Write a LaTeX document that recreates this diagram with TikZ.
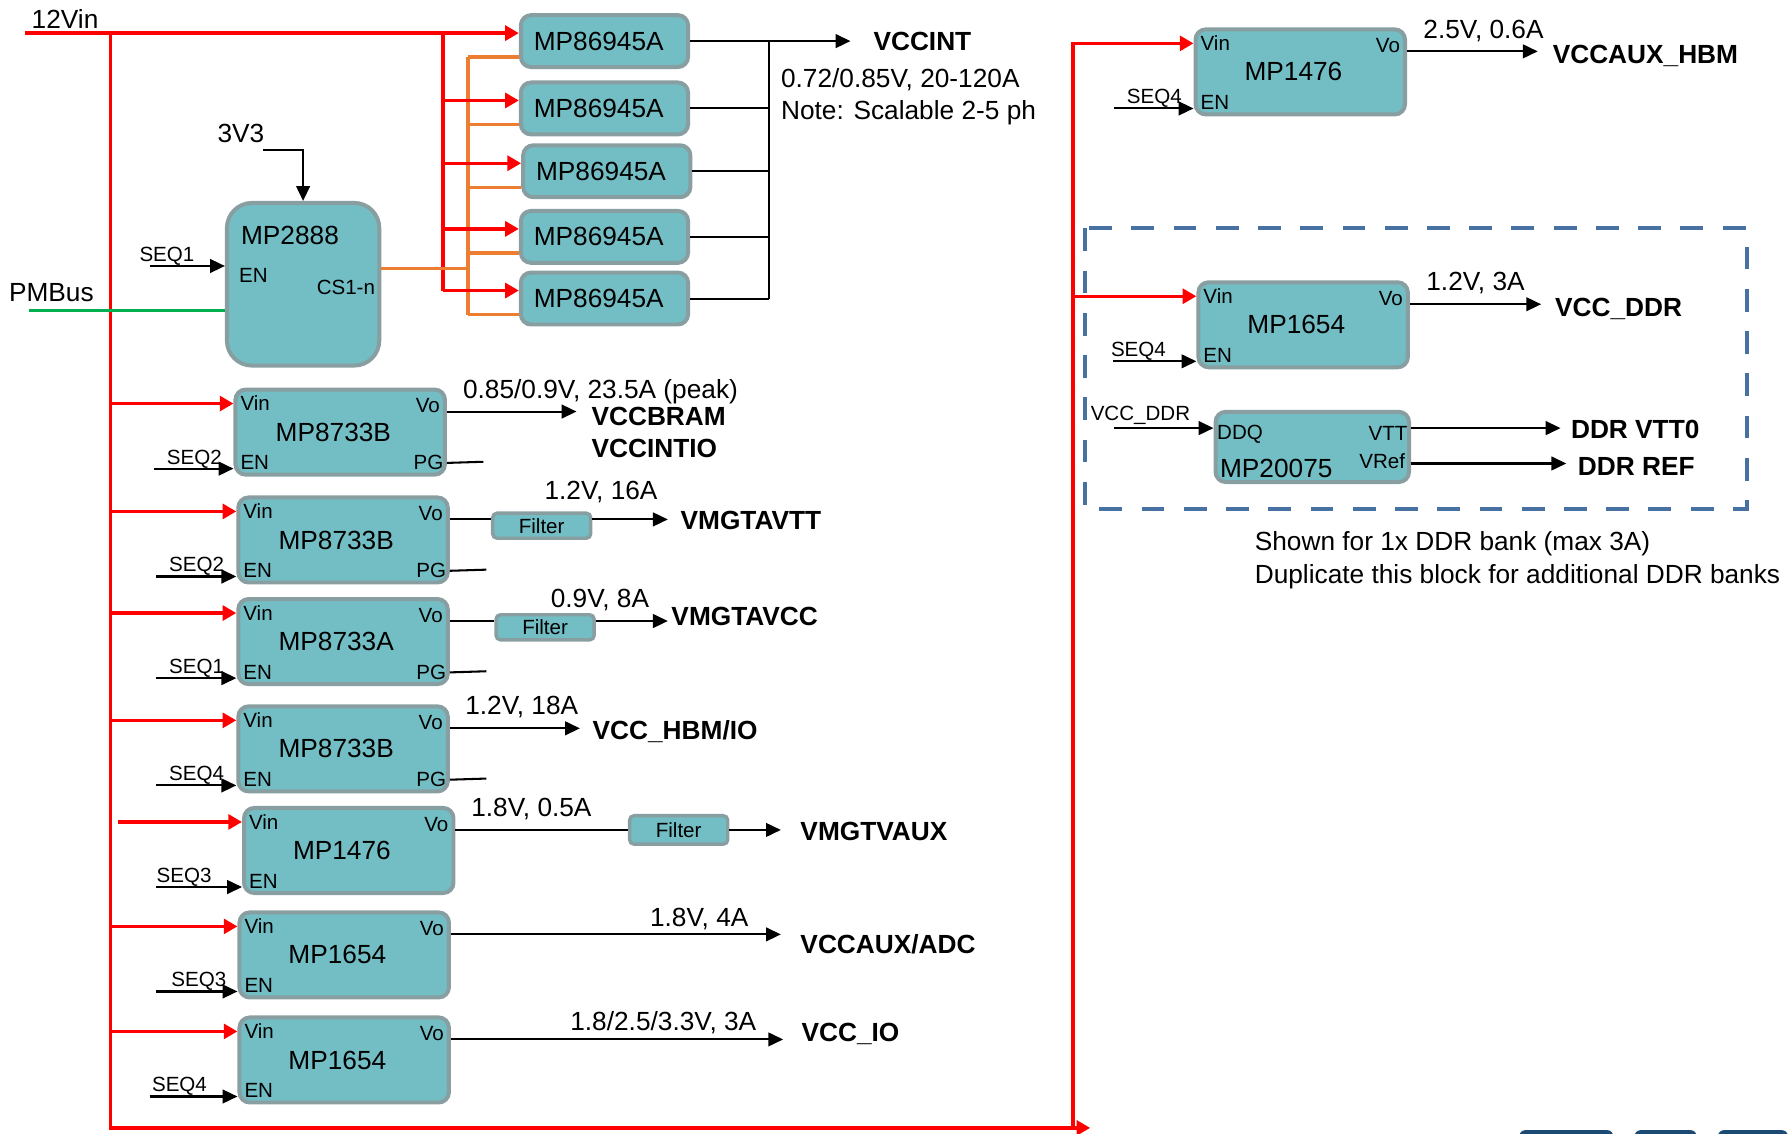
\documentclass[tikz,border=0pt]{standalone}
\usepackage{fontspec}
\setmainfont{Liberation Sans}
\usetikzlibrary{arrows.meta,positioning,calc}
\definecolor{BoxFill}{HTML}{72BEC4}
\definecolor{BoxEdge}{HTML}{889EA1}
\definecolor{RailRed}{HTML}{FF0000}
\definecolor{CsOrange}{HTML}{ED7D31}
\definecolor{BusGreen}{HTML}{00B050}
\definecolor{BankBlue}{HTML}{4671A0}
\definecolor{TabNavy}{HTML}{1B4A72}
\newcommand{\RegBox}[4]{%
  \node[regbox] (#1) at (#2,#3) {};
  \node[partlbl] (#1t) at ([xshift=-6pt]#1.center) {#4};
  \node[pinlbl,anchor=west] (#1vin) at ([xshift=6pt,yshift=-14pt]#1.north west) {Vin};
  \node[pinlbl,anchor=east] (#1vo) at ([xshift=-6pt,yshift=-16pt]#1.north east) {Vo};
  \node[pinlbl,anchor=west] (#1en) at ([xshift=6pt,yshift=12pt]#1.south west) {EN};
  \coordinate (#1out) at ([yshift=-21pt]#1.north east);
  \coordinate (#1ena) at ([yshift=7pt]#1.south west);%
}
\begin{document}
\begin{tikzpicture}[x=1pt,y=-1pt,
  regbox/.style={draw=BoxEdge,fill=BoxFill,line width=3.5pt,rounded corners=9pt,minimum width=183.5pt,minimum height=74.5pt,inner sep=0pt},
  filterbox/.style={draw=BoxEdge,fill=BoxFill,line width=3pt,rounded corners=4pt,minimum width=86pt,minimum height=22pt,inner sep=0pt,font=\fontsize{18}{21}\selectfont},
  partlbl/.style={inner sep=0pt,font=\fontsize{23}{27}\selectfont},
  pinlbl/.style={inner sep=0pt,font=\fontsize{18}{21}\selectfont},
  notetxt/.style={inner sep=0pt,align=left,font=\fontsize{23}{28}\selectfont},
  railtxt/.style={inner sep=0pt,anchor=west,align=left,font=\fontsize{23}{28}\selectfont\bfseries},
  pwr/.style={draw=RailRed,line width=3pt},
  pwrarr/.style={pwr,-{Triangle[length=12pt,width=13pt]}},
  sig/.style={draw=black,line width=1.8pt},
  sigarr/.style={sig,-{Triangle[length=13pt,width=12pt]}},
  csline/.style={draw=CsOrange,line width=3pt},
  pmbline/.style={draw=BusGreen,line width=3pt},
  bankline/.style={draw=BankBlue,line width=3.5pt,dash pattern=on 20pt off 17pt}]
\useasboundingbox (0,0) rectangle (1568,993);

\foreach \i/\cx/\cy in {1/529.5/36,2/529.5/95,3/531.5/150,4/529.5/207.5,5/529.5/261.5} {
  \node[regbox,minimum width=146.5pt,minimum height=45.5pt,font=\fontsize{23}{27}\selectfont] (ph\i) at (\cx,\cy) {\hspace*{-10pt}MP86945A};
  \coordinate (ph\i in) at ([yshift=7pt]ph\i.west);
  \coordinate (ph\i cs) at ([yshift=-14pt]ph\i.west);
}
\foreach \n/\cx/\cy/\part in {r1/298/378.5/MP8733B,r2/300.5/473/MP8733B,r3/300.5/562/MP8733A,r4/300.5/656/MP8733B,r5/305.5/745/MP1476,r6/301.5/836.5/MP1654,r7/301.5/928.5/MP1654,u1/1139/63/MP1476,u2/1141.5/284.5/MP1654}
  {\RegBox{\n}{\cx}{\cy}{\part}}
\foreach \n in {r1,r2,r3,r4} {
  \node[pinlbl,anchor=east] (\n pg) at ([xshift=-3pt,yshift=12pt]\n.south east) {PG};
  \coordinate (\n pgx) at ($(\n.east |- \n pg)+(32,-1)$);
  \draw[sig] (\n.east |- \n pg) -- (\n pgx);
}

\node[regbox,minimum width=133.5pt,minimum height=142.5pt,rounded corners=22pt] (ctl) at (265.5,249) {};
\node[partlbl,anchor=west] (ctlt) at (211,206) {MP2888};
\node[pinlbl] (ctlen) at (222,241) {EN};
\node[pinlbl] (ctlcs) at (303,252) {CS1-n};
\node[notetxt] (v33) at (211,117) {3V3};
\coordinate (v33a) at (230,131);
\draw[sigarr] (v33a) -| (ctl.north);
\node[pinlbl,anchor=base west] (ctlseq) at (122,229) {SEQ1};
\coordinate (ctlena) at (131,233);
\draw[sigarr] (ctlena) -- (ctlena -| ctl.west);

\node[notetxt] (vinlbl) at (57,17) {12Vin};
\coordinate (vin) at (22,29);
\coordinate (busA) at (97,29);
\coordinate (busB) at (388,29);
\coordinate (busBot) at (97,988);
\coordinate (busEnd) at (955,988);
\coordinate (busC) at (940,41);
\coordinate (csBus) at (410,235);
\coordinate (r5src) at (103,745);
\coordinate (ctlcsa) at ([yshift=14pt]ctl.east);

\draw[csline] (csBus |- ph1cs) -- (csBus |- ph5cs);
\draw[pwrarr] (vin) -- (ph1in);
\draw[pwr] (busB) -- (busB |- ph5in);
\foreach \i in {2,...,5}
  \draw[pwrarr] (busB |- ph\i in) -- (ph\i in);
\foreach \i in {1,...,5}
  \draw[csline] (csBus |- ph\i cs) -- (ph\i cs);
\draw[csline] (ctlcsa) -- (ctlcsa -| csBus);
\draw[pwrarr] (busA) -- (busBot) -- (busEnd);
\foreach \n in {r1,r2,r3,r4,r6,r7}
  \draw[pwrarr] (busA |- \n vin) -- (\n.west |- \n vin);
\draw[pwrarr] (r5src |- r5vin) -- (r5.west |- r5vin);
\draw[pwrarr] (busBot -| busC) |- (u1.west |- u1vin);
\draw[pwrarr] (busC |- u2vin) -- (u2.west |- u2vin);

\node[notetxt] (pmb) at (45,256) {PMBus};
\coordinate (pmba) at (25,272);
\draw[pmbline] (pmba) -- (pmba -| ctl.west);

\coordinate (vjoin) at (674,36);
\draw[sigarr] (ph1.east) -- (ph1.east -| 745,0);
\foreach \i in {2,...,5}
  \draw[sig] (ph\i.east) -- (ph\i.east -| vjoin);
\draw[sig] (ph1.east -| vjoin) -- (ph5.east -| vjoin);
\node[railtxt] (vccint) at (765,36) {VCCINT};
\node[notetxt,anchor=west] (vccintnote) at (684,85) {0.72/0.85V, 20-120A\\Note: Scalable 2-5 ph};

\foreach \n/\lbl/\sx/\tx in {r1/SEQ2/135/146,r2/SEQ2/137/148,r3/SEQ1/137/148,r4/SEQ4/137/148,r5/SEQ3/137/137,r6/SEQ3/137/150,r7/SEQ4/131/133,u1/SEQ4/976/987,u2/SEQ4/975/973} {
  \draw[sigarr] (\sx,0 |- \n ena) -- (\n ena);
  \node[pinlbl,anchor=base west] (\n seq) at ($(\tx,0 |- \n ena)+(0,-4)$) {\lbl};
}

\node[filterbox] (f2) at (474.5,460.5) {Filter};
\node[filterbox] (f3) at (477.5,549.5) {Filter};
\node[filterbox,minimum height=25pt] (f5) at (594.5,727) {Filter};
\foreach \n/\tx in {r1/505,r4/508,r6/684,r7/686,u1/1347,u2/1350}
  \draw[sigarr] (\n out) -- (\n out -| \tx,0);
\foreach \n/\f/\tx in {r2/f2/585,r3/f3/585,r5/f5/684} {
  \draw[sig] (\n out) -- (\n out -| \f.west);
  \draw[sigarr] (\f.east |- \n out) -- (\n out -| \tx,0);
}

\node[notetxt] (r1note) at (526,343) {0.85/0.9V, 23.5A (peak)};
\node[notetxt] (r2note) at (526.5,431) {1.2V, 16A};
\node[notetxt] (r3note) at (525.5,526) {0.9V, 8A};
\node[notetxt] (r4note) at (457,619) {1.2V, 18A};
\node[notetxt] (r5note) at (465.5,709) {1.8V, 0.5A};
\node[notetxt] (r6note) at (612.5,805) {1.8V, 4A};
\node[notetxt] (r7note) at (581,896) {1.8/2.5/3.3V, 3A};
\node[notetxt] (u1note) at (1299.5,27) {2.5V, 0.6A};
\node[notetxt] (u2note) at (1292.5,248) {1.2V, 3A};

\node[railtxt] (r1rail) at (518,379) {VCCBRAM\\VCCINTIO};
\node[railtxt] (r2rail) at (596,456) {VMGTAVTT};
\node[railtxt] (r3rail) at (588,540) {VMGTAVCC};
\node[railtxt] (r4rail) at (519,641) {VCC\_HBM/IO};
\node[railtxt] (r5rail) at (701,728) {VMGTVAUX};
\node[railtxt] (r6rail) at (701,827) {VCCAUX/ADC};
\node[railtxt] (r7rail) at (702,906) {VCC\_IO};
\node[railtxt] (u1rail) at (1360,49) {VCCAUX\_HBM};
\node[railtxt] (u2rail) at (1362,271) {VCC\_DDR};

\draw[bankline] (950,200) rectangle (1530,446);
\node[regbox,minimum width=169.5pt,minimum height=61.5pt] (ddr) at (1149.5,391.5) {};
\node[pinlbl,anchor=west] (ddrddq) at (1066,380) {DDQ};
\node[pinlbl,anchor=east] (ddrvtt) at (1233,380) {VTT};
\node[pinlbl,anchor=east] (ddrvref) at (1231,404) {VRef};
\node[partlbl] (ddrt) at (1118,410) {MP20075};
\node[pinlbl] (ddrin) at (999,364) {VCC\_DDR};
\coordinate (ddrsrc) at (976,375);
\draw[sigarr] (ddrsrc) -- (ddrsrc -| ddr.west);
\coordinate (vttout) at (ddr.east |- ddrsrc);
\draw[sigarr] (vttout) -- (vttout -| 1367,0);
\coordinate (vrefout) at (ddr.east |- 0,406);
\draw[sigarr] (vrefout) -- (vrefout -| 1372,0);
\node[railtxt] (vttrail) at (1376,376) {DDR VTT0};
\node[railtxt] (vrefrail) at (1382,409) {DDR REF};
\node[notetxt,anchor=west,font=\fontsize{23}{29}\selectfont] (bankcap) at (1099,490.5) {Shown for 1x DDR bank (max 3A)\\Duplicate this block for additional DDR banks};

\foreach \a/\b in {1331/1413,1432/1486,1505/1566}
  \fill[TabNavy,rounded corners=5pt] (\a,990) rectangle (\b,1010);
\end{tikzpicture}
\end{document}
